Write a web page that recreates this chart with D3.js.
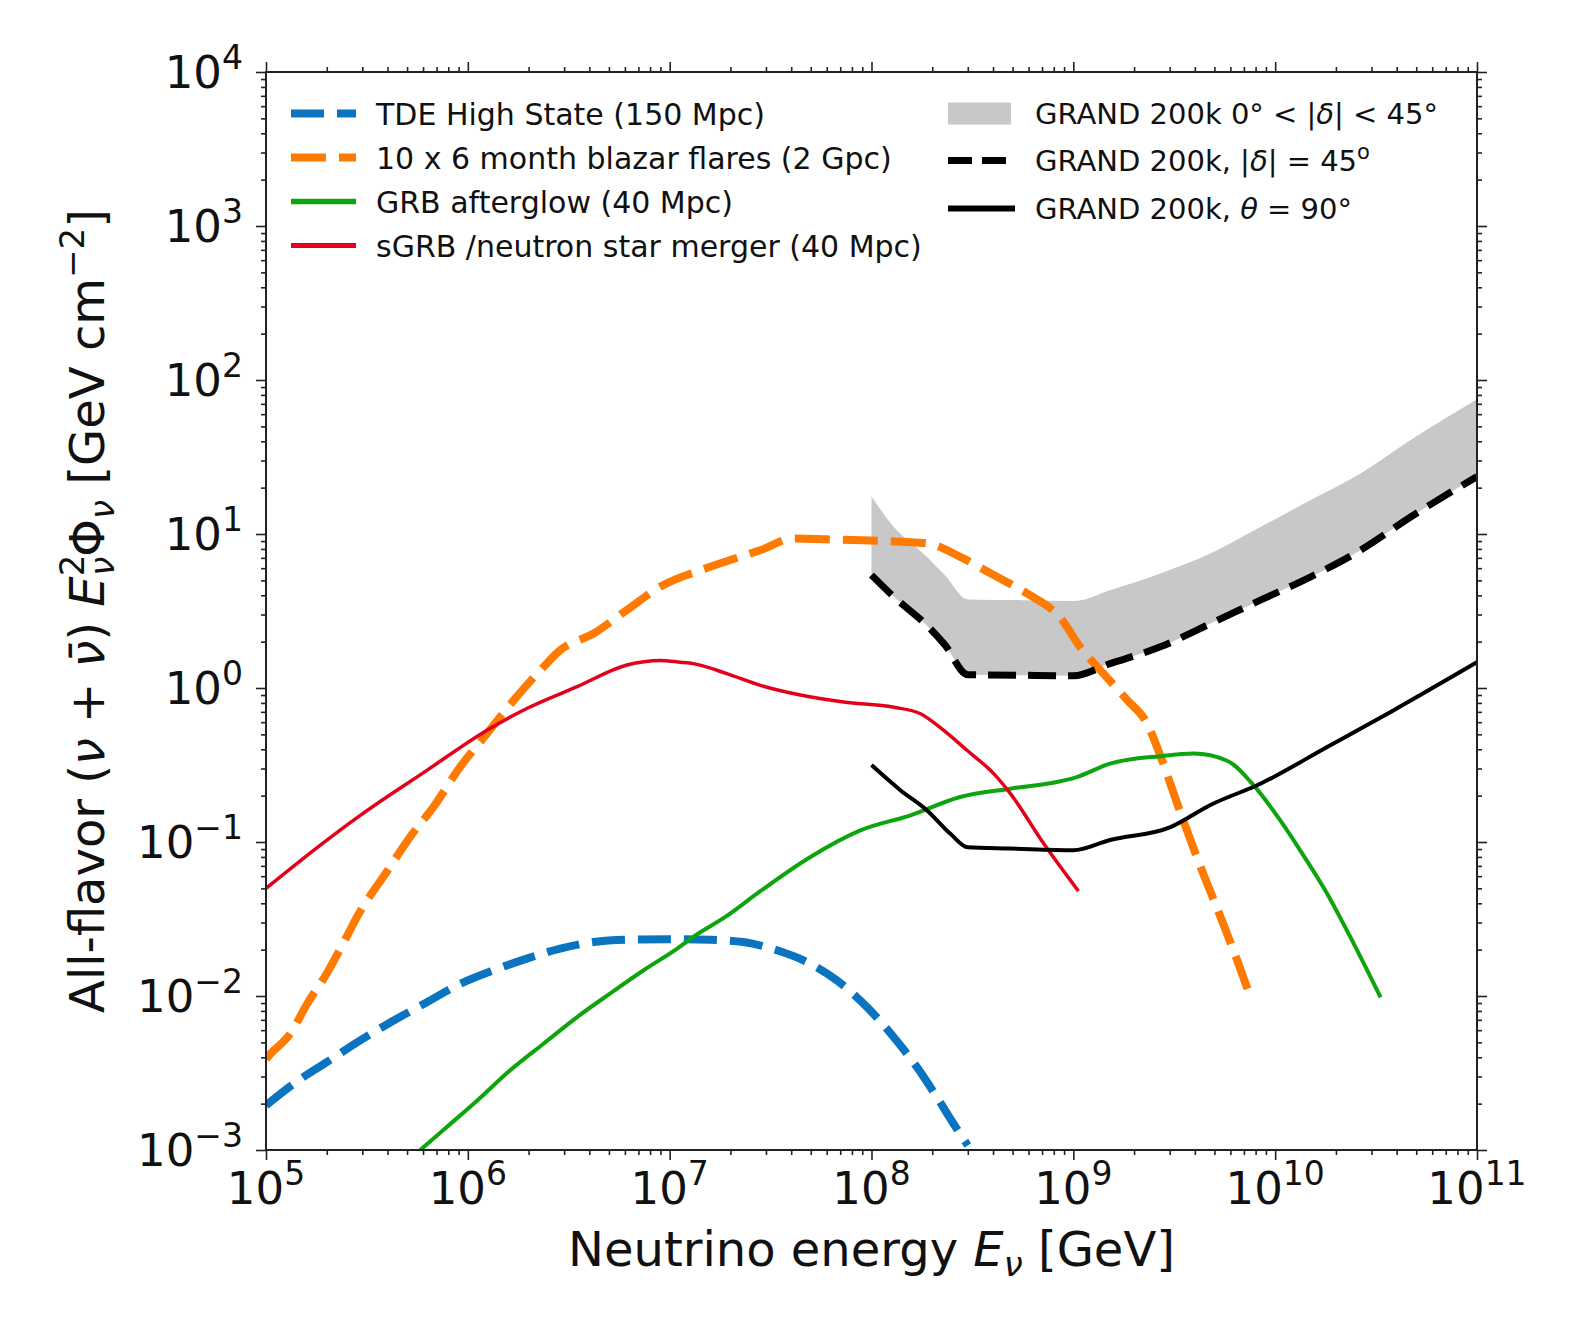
<!DOCTYPE html>
<html>
<head>
<meta charset="utf-8">
<script src="https://cdn.jsdelivr.net/npm/d3@7"></script>
<style>
  html, body { margin: 0; padding: 0; background: #fff; }
  svg { display: block; font-family: "DejaVu Sans", sans-serif; }
</style>
</head>
<body>
<svg id="chart" width="1573" height="1326"></svg>
<script>
// Neutrino energy [GeV] and all-flavour E^2 flux [GeV cm^-2] for each source model

// TDE high state (150 Mpc)
const tdeE    = [1e5, 1.37e5, 2.0e5, 2.93e5, 4.29e5, 6.27e5, 9.16e5, 1.34e6, 1.96e6, 2.87e6, 4.2e6, 6.14e6, 1.09e7, 1.59e7, 2.32e7, 3.4e7, 4.98e7, 6.75e7, 9.5e7, 1.29e8, 1.68e8, 2.11e8, 2.55e8, 3.0e8];
const tdeFlux = [0.00195, 0.00269, 0.00372, 0.00515, 0.00693, 0.00912, 0.0120, 0.0147, 0.0175, 0.0203, 0.0224, 0.0232, 0.0234, 0.0232, 0.0224, 0.0198, 0.0162, 0.0126, 0.00847, 0.0054, 0.00345, 0.0022, 0.00148, 0.00107];

// 10 x 6 month blazar flares (2 Gpc)
const blazarE    = [1e5, 1.05e5, 1.32e5, 1.6e5, 2.0e5, 2.5e5, 2.82e5, 3.98e5, 5.18e5, 6.76e5, 9.16e5, 1.245e6, 1.69e6, 2.37e6, 2.87e6, 4.2e6, 6.14e6, 8.97e6, 1.59e7, 2.81e7, 4.11e7, 6.01e7, 1.06e8, 1.88e8, 2.75e8, 4.03e8, 5.9e8, 8.63e8, 1.08e9, 1.41e9, 1.85e9, 2.32e9, 2.7e9, 3.27e9, 4.27e9, 5.36e9, 6.49e9, 7.55e9];
const blazarFlux = [0.0039, 0.0042, 0.0057, 0.0089, 0.014, 0.024, 0.0325, 0.0646, 0.108, 0.169, 0.307, 0.506, 0.834, 1.37, 1.76, 2.26, 3.21, 4.54, 6.12, 7.85, 9.35, 9.23, 9.04, 8.69, 7.11, 5.41, 4.11, 2.85, 1.85, 1.24, 0.834, 0.587, 0.363, 0.178, 0.0689, 0.0326, 0.0170, 0.0098];

// GRB afterglow (40 Mpc)
const grbE    = [5.81e5, 7.87e5, 1.11e6, 1.62e6, 2.37e6, 3.48e6, 5.08e6, 7.43e6, 1.09e7, 1.31e7, 1.92e7, 2.81e7, 4.98e7, 8.81e7, 1.56e8, 2.75e8, 4.88e8, 8.63e8, 1.04e9, 1.52e9, 2.7e9, 3.95e9, 5.78e9, 7.83e9, 1.06e10, 1.33e10, 1.81e10, 2.45e10, 3.33e10];
const grbFlux = [0.001, 0.00141, 0.00209, 0.00329, 0.0049, 0.0073, 0.0104, 0.0147, 0.0203, 0.0242, 0.0331, 0.0479, 0.080, 0.119, 0.149, 0.196, 0.222, 0.248, 0.264, 0.323, 0.361, 0.375, 0.337, 0.233, 0.138, 0.0883, 0.0462, 0.0219, 0.0098];

// sGRB / neutron star merger (40 Mpc)
const sgrbE    = [1e5, 1.86e5, 2.93e5, 6.27e5, 1.245e6, 1.96e6, 3.48e6, 6.14e6, 8.97e6, 1.13e7, 1.31e7, 1.92e7, 2.81e7, 4.44e7, 7.28e7, 1.29e8, 1.75e8, 2.28e8, 2.97e8, 4.03e8, 4.88e8, 7.13e8, 1.06e9];
const sgrbFlux = [0.050, 0.0955, 0.149, 0.292, 0.532, 0.736, 1.02, 1.41, 1.51, 1.47, 1.44, 1.24, 1.04, 0.90, 0.81, 0.75, 0.68, 0.53, 0.394, 0.278, 0.206, 0.0977, 0.048];

// GRAND 200k sensitivity: band over 0 < |delta| < 45 deg, its |delta| = 45 deg edge
const grandE    = [1e8, 1.29e8, 1.88e8, 2.3e8, 3.0e8, 5.5e8, 1e9, 1.52e9, 2.7e9, 4.78e9, 8.45e9, 1.5e10, 2.65e10, 4.69e10, 1e11];
const grandLow  = [5.41, 3.91, 2.55, 1.92, 1.22, 1.21, 1.20, 1.44, 1.85, 2.62, 3.72, 5.27, 7.85, 12.9, 23.6];
const grandHigh = [17.5, 11.1, 7.11, 5.43, 3.76, 3.72, 3.67, 4.32, 5.55, 7.48, 11.1, 16.6, 24.7, 40.7, 75];

// GRAND 200k, theta = 90 deg
const grand90E    = [1e8, 1.39e8, 1.88e8, 2.46e8, 3.0e8, 4.88e8, 1e9, 1.52e9, 3.03e9, 4.78e9, 8.45e9, 1.81e10, 3.87e10, 1e11];
const grand90Flux = [0.316, 0.217, 0.161, 0.113, 0.0923, 0.0906, 0.0883, 0.103, 0.125, 0.174, 0.239, 0.414, 0.718, 1.47];

// Axis decades
const xDecades = [5, 6, 7, 8, 9, 10, 11];
const yDecades = [-3, -2, -1, 0, 1, 2, 3, 4];

const legendLeft = [
  { label: "TDE High State (150 Mpc)", key: "tde" },
  { label: "10 x 6 month blazar flares (2 Gpc)", key: "blazar" },
  { label: "GRB afterglow (40 Mpc)", key: "grb" },
  { label: "sGRB /neutron star merger (40 Mpc)", key: "sgrb" }
];

const styles = {
  tde:    { color: "#0b74c1", width: 8, dash: "33,13" },
  blazar: { color: "#ff7a00", width: 8, dash: "35,13" },
  grb:    { color: "#0ea40e", width: 4, dash: null },
  sgrb:   { color: "#e3001b", width: 3.5, dash: null },
  g45:    { color: "#000000", width: 7, dash: "28,12" },
  g90:    { color: "#000000", width: 4, dash: null },
  band:   "#c8c8c8"
};

const svg = d3.select("#chart");
const plot = { left: 266, right: 1477, top: 72, bottom: 1150 };

const x = d3.scaleLog().domain([1e5, 1e11]).range([plot.left, plot.right]);
const y = d3.scaleLog().domain([1e-3, 1e4]).range([plot.bottom, plot.top]);

const textColor = "#111";

svg.append("defs").append("clipPath").attr("id", "plotclip")
  .append("rect")
  .attr("x", plot.left).attr("y", plot.top)
  .attr("width", plot.right - plot.left).attr("height", plot.bottom - plot.top);

const g = svg.append("g").attr("clip-path", "url(#plotclip)");

// sensitivity band
const bandData = grandE.map((e, i) => ({ e, lo: grandLow[i], hi: grandHigh[i] }));
g.append("path")
  .datum(bandData)
  .attr("fill", styles.band)
  .attr("stroke", "none")
  .attr("d", d3.area().curve(d3.curveMonotoneX)
    .x(d => x(d.e)).y0(d => y(d.lo)).y1(d => y(d.hi)));

const line = d3.line().curve(d3.curveMonotoneX).x(d => x(d[0])).y(d => y(d[1]));
function drawSeries(E, F, st) {
  const p = g.append("path")
    .datum(E.map((e, i) => [e, F[i]]))
    .attr("fill", "none")
    .attr("stroke", st.color)
    .attr("stroke-width", st.width)
    .attr("stroke-linejoin", "round")
    .attr("stroke-linecap", "butt")
    .attr("d", line);
  if (st.dash) p.attr("stroke-dasharray", st.dash);
}

drawSeries(tdeE, tdeFlux, styles.tde);
drawSeries(blazarE, blazarFlux, styles.blazar);
drawSeries(grbE, grbFlux, styles.grb);
drawSeries(sgrbE, sgrbFlux, styles.sgrb);
drawSeries(grandE, grandLow, styles.g45);
drawSeries(grand90E, grand90Flux, styles.g90);

// axes: major and minor ticks on all four sides, pointing outward
const xMajor = xDecades.map(d => Math.pow(10, d));
const yMajor = yDecades.map(d => Math.pow(10, d));
const xMinor = [], yMinor = [];
xDecades.slice(0, -1).forEach(d => { for (let k = 2; k <= 9; k++) xMinor.push(k * Math.pow(10, d)); });
yDecades.slice(0, -1).forEach(d => { for (let k = 2; k <= 9; k++) yMinor.push(k * Math.pow(10, d)); });

function axisGroup(gen, tx, ty) {
  const a = svg.append("g").attr("transform", `translate(${tx},${ty})`).call(gen);
  a.select(".domain").remove();
  a.selectAll("line").attr("stroke", "#222").attr("stroke-width", 1.6);
  a.selectAll("text").remove();
  return a;
}
const noLab = () => "";
axisGroup(d3.axisBottom(x).tickValues(xMajor).tickFormat(noLab).tickSize(10), 0, plot.bottom);
axisGroup(d3.axisBottom(x).tickValues(xMinor).tickFormat(noLab).tickSize(5), 0, plot.bottom);
axisGroup(d3.axisTop(x).tickValues(xMajor).tickFormat(noLab).tickSize(10), 0, plot.top);
axisGroup(d3.axisTop(x).tickValues(xMinor).tickFormat(noLab).tickSize(5), 0, plot.top);
axisGroup(d3.axisLeft(y).tickValues(yMajor).tickFormat(noLab).tickSize(10), plot.left, 0);
axisGroup(d3.axisLeft(y).tickValues(yMinor).tickFormat(noLab).tickSize(5), plot.left, 0);
axisGroup(d3.axisRight(y).tickValues(yMajor).tickFormat(noLab).tickSize(10), plot.right, 0);
axisGroup(d3.axisRight(y).tickValues(yMinor).tickFormat(noLab).tickSize(5), plot.right, 0);

// frame
svg.append("rect")
  .attr("x", plot.left).attr("y", plot.top)
  .attr("width", plot.right - plot.left).attr("height", plot.bottom - plot.top)
  .attr("fill", "none").attr("stroke", "#222").attr("stroke-width", 2);

// tick labels as 10^n
const tickFont = 45, supFont = 33;
function powerLabel(sel, exp) {
  sel.append("tspan").text("10");
  sel.append("tspan").attr("dy", -19).attr("font-size", supFont)
    .text(exp < 0 ? "\u2212" + Math.abs(exp) : String(exp));
}
xDecades.forEach(d => {
  const t = svg.append("text")
    .attr("x", x(Math.pow(10, d))).attr("y", 1204)
    .attr("text-anchor", "middle").attr("font-size", tickFont).attr("fill", textColor);
  powerLabel(t, d);
});
yDecades.forEach(d => {
  const t = svg.append("text")
    .attr("x", 243).attr("y", y(Math.pow(10, d)) + 16)
    .attr("text-anchor", "end").attr("font-size", tickFont).attr("fill", textColor);
  powerLabel(t, d);
});

// axis titles
const labFont = 48, labSmall = 34;
const xl = svg.append("text")
  .attr("x", (plot.left + plot.right) / 2).attr("y", 1266)
  .attr("text-anchor", "middle").attr("font-size", labFont).attr("fill", textColor);
xl.append("tspan").text("Neutrino energy ");
xl.append("tspan").attr("font-style", "italic").text("E");
xl.append("tspan").attr("font-style", "italic").attr("font-size", labSmall).attr("dy", 10).text("\u03bd");
xl.append("tspan").attr("dy", -10).text(" [GeV]");

const yl = svg.append("text")
  .attr("transform", `translate(104, ${(plot.top + plot.bottom) / 2}) rotate(-90)`)
  .attr("text-anchor", "middle").attr("font-size", labFont).attr("fill", textColor);
yl.append("tspan").text("All-flavor (");
yl.append("tspan").attr("font-style", "italic").text("\u03bd");
yl.append("tspan").text(" + ");
yl.append("tspan").attr("font-style", "italic").text("\u03bd\u0304");
yl.append("tspan").text(") ");
yl.append("tspan").attr("font-style", "italic").text("E");
yl.append("tspan").attr("font-size", labSmall).attr("dy", -20).text("2");
yl.append("tspan").attr("font-size", labSmall).attr("font-style", "italic").attr("dx", -21).attr("dy", 30).text("\u03bd");
yl.append("tspan").attr("dy", -10).text("\u03a6");
yl.append("tspan").attr("font-size", labSmall).attr("font-style", "italic").attr("dy", 10).text("\u03bd");
yl.append("tspan").attr("dy", -10).text(" [GeV cm");
yl.append("tspan").attr("font-size", labSmall).attr("dy", -20).text("\u22122");
yl.append("tspan").attr("dy", 20).text("]");

// legends
const legFont = 30;
const leftRows = [113.5, 157.5, 201.5, 245.5];
legendLeft.forEach((item, i) => {
  const st = styles[item.key];
  const cy = leftRows[i];
  const l = svg.append("line")
    .attr("x1", 291).attr("x2", 356).attr("y1", cy).attr("y2", cy)
    .attr("stroke", st.color).attr("stroke-width", st.dash ? st.width : st.width + 1.5);
  if (st.dash) l.attr("stroke-dasharray", st.dash);
  svg.append("text").attr("x", 376).attr("y", cy + 11)
    .attr("font-size", legFont).attr("fill", textColor).text(item.label);
});

const rightRows = [113.5, 160.5, 208.5];
svg.append("rect").attr("x", 948).attr("y", rightRows[0] - 11).attr("width", 63).attr("height", 22)
  .attr("fill", styles.band);
svg.append("line").attr("x1", 948).attr("x2", 1008).attr("y1", rightRows[1]).attr("y2", rightRows[1])
  .attr("stroke", "#000").attr("stroke-width", styles.g45.width).attr("stroke-dasharray", "24,10");
svg.append("line").attr("x1", 948).attr("x2", 1015).attr("y1", rightRows[2]).attr("y2", rightRows[2])
  .attr("stroke", "#000").attr("stroke-width", 6);

function rightText(row) {
  return svg.append("text").attr("x", 1035).attr("y", rightRows[row] + 10.5)
    .attr("font-size", 29).attr("fill", textColor);
}
const r1 = rightText(0);
r1.append("tspan").text("GRAND 200k 0\u00b0 < |");
r1.append("tspan").attr("font-style", "italic").text("\u03b4");
r1.append("tspan").text("| < 45\u00b0");
const r2 = rightText(1);
r2.append("tspan").text("GRAND 200k, |");
r2.append("tspan").attr("font-style", "italic").text("\u03b4");
r2.append("tspan").text("| = 45");
r2.append("tspan").attr("font-size", 21).attr("dy", -12).text("o");
const r3 = rightText(2);
r3.append("tspan").text("GRAND 200k, ");
r3.append("tspan").attr("font-style", "italic").text("\u03b8");
r3.append("tspan").text(" = 90\u00b0");
</script>
</body>
</html>
